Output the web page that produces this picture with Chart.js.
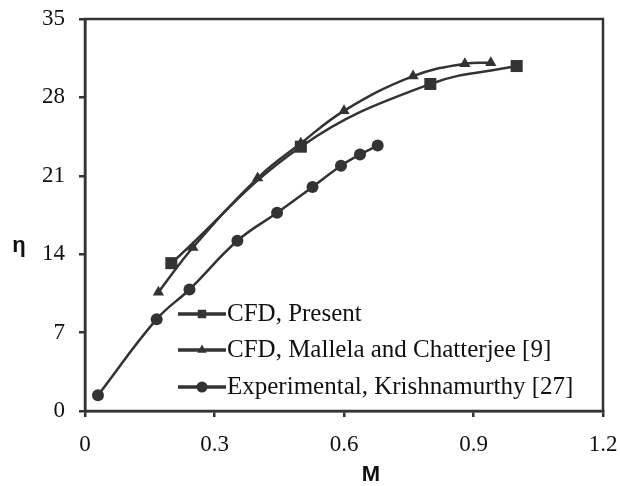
<!DOCTYPE html>
<html>
<head>
<meta charset="utf-8">
<script src="https://cdn.jsdelivr.net/npm/chart.js@4.4.0/dist/chart.umd.min.js"></script>
<style>
  html, body { margin: 0; padding: 0; background: #fff; }
  #wrap { width: 620px; height: 486px; }
</style>
</head>
<body>
<div id="wrap"><canvas id="chart" width="620" height="486"></canvas></div>
<script>
// data
const presentM   = [0.2, 0.5, 0.8, 1.0]
const presentEta = [13.2, 23.6, 29.2, 30.8]

const mallelaM   = [0.17, 0.25, 0.4, 0.5, 0.6, 0.76, 0.88, 0.94]
const mallelaEta = [10.6, 14.6, 20.8, 23.9, 26.8, 29.9, 31.0, 31.1]

const expM   = [0.03, 0.166, 0.242, 0.353, 0.445, 0.527, 0.593, 0.637, 0.678]
const expEta = [1.4, 8.2, 10.85, 15.2, 17.7, 20.0, 21.9, 22.9, 23.7]

const labels = ['CFD, Present', 'CFD, Mallela and Chatterjee [9]', 'Experimental, Krishnamurthy [27]']

const ink = '#333333'
const serif = '"Liberation Serif", "Times New Roman", serif'
const toPts = (xs, ys) => xs.map((x, i) => ({x: x, y: ys[i]}))

const series = (label, xs, ys, style, r) => ({
  label: label,
  data: toPts(xs, ys),
  borderColor: ink,
  backgroundColor: ink,
  borderWidth: 2.5,
  pointStyle: style,
  pointRadius: r,
  pointHoverRadius: r,
  pointBorderWidth: 0,
  tension: 0.4,
  fill: false
})

// box, axis titles and in-plot legend
const extras = {
  id: 'extras',
  afterDatasetsDraw(chart) {
    const c = chart.ctx
    const a = chart.chartArea
    c.save()
    c.strokeStyle = ink
    c.lineWidth = 2.5
    c.strokeRect(a.left, a.top, a.right - a.left, a.bottom - a.top)

    c.fillStyle = '#111'
    c.font = 'bold 22px "Liberation Sans", Arial, sans-serif'
    c.textAlign = 'center'
    c.textBaseline = 'middle'
    c.fillText('M', 371, 475)
    c.fillText('η', 19, 246)

    c.font = '25px ' + serif
    c.textAlign = 'left'
    c.textBaseline = 'alphabetic'
    const rows = [314, 350, 387]
    chart.data.datasets.forEach((ds, i) => {
      const y = rows[i]
      c.strokeStyle = ink
      c.lineWidth = 3.5
      c.beginPath()
      c.moveTo(178, y)
      c.lineTo(226, y)
      c.stroke()
      c.fillStyle = ink
      const r = ds.pointStyle === 'rect' ? 6 : 5.5
      Chart.helpers.drawPoint(c, {pointStyle: ds.pointStyle, radius: r, rotation: 0, borderWidth: 0}, 202, y)
      c.fillStyle = '#111'
      c.fillText(ds.label, 227, y + 7)
    })
    c.restore()
  }
}

const ctx = document.getElementById('chart').getContext('2d')
const myChart = new Chart(ctx, {
  type: 'line',
  data: {
    datasets: [
      series(labels[0], presentM, presentEta, 'rect', 8.5),
      series(labels[1], mallelaM, mallelaEta, 'triangle', 6.5),
      series(labels[2], expM, expEta, 'circle', 6)
    ]
  },
  options: {
    responsive: false,
    animation: false,
    layout: { padding: { left: 0, right: 17, top: 19, bottom: 0 } },
    scales: {
      x: {
        type: 'linear',
        min: 0,
        max: 1.2,
        afterFit: s => { s.height = 75; s.paddingLeft = 0; s.paddingRight = 0 },
        ticks: {
          stepSize: 0.3,
          color: '#111',
          padding: 14,
          font: { family: serif, size: 23 },
          callback: v => String(Number(v.toFixed(1)))
        },
        grid: { drawOnChartArea: false, drawTicks: true, tickLength: 6, color: ink, lineWidth: 2.5 },
        border: { display: true, color: ink, width: 2.5 }
      },
      y: {
        min: 0,
        max: 35,
        afterFit: s => { s.width = 85; s.paddingTop = 0; s.paddingBottom = 0 },
        ticks: {
          stepSize: 7,
          color: '#111',
          padding: 14,
          font: { family: serif, size: 23 }
        },
        grid: { drawOnChartArea: false, drawTicks: true, tickLength: 6, color: ink, lineWidth: 2.5 },
        border: { display: true, color: ink, width: 2.5 }
      }
    },
    plugins: {
      legend: { display: false },
      tooltip: { enabled: false }
    }
  },
  plugins: [extras]
})
</script>
</body>
</html>
